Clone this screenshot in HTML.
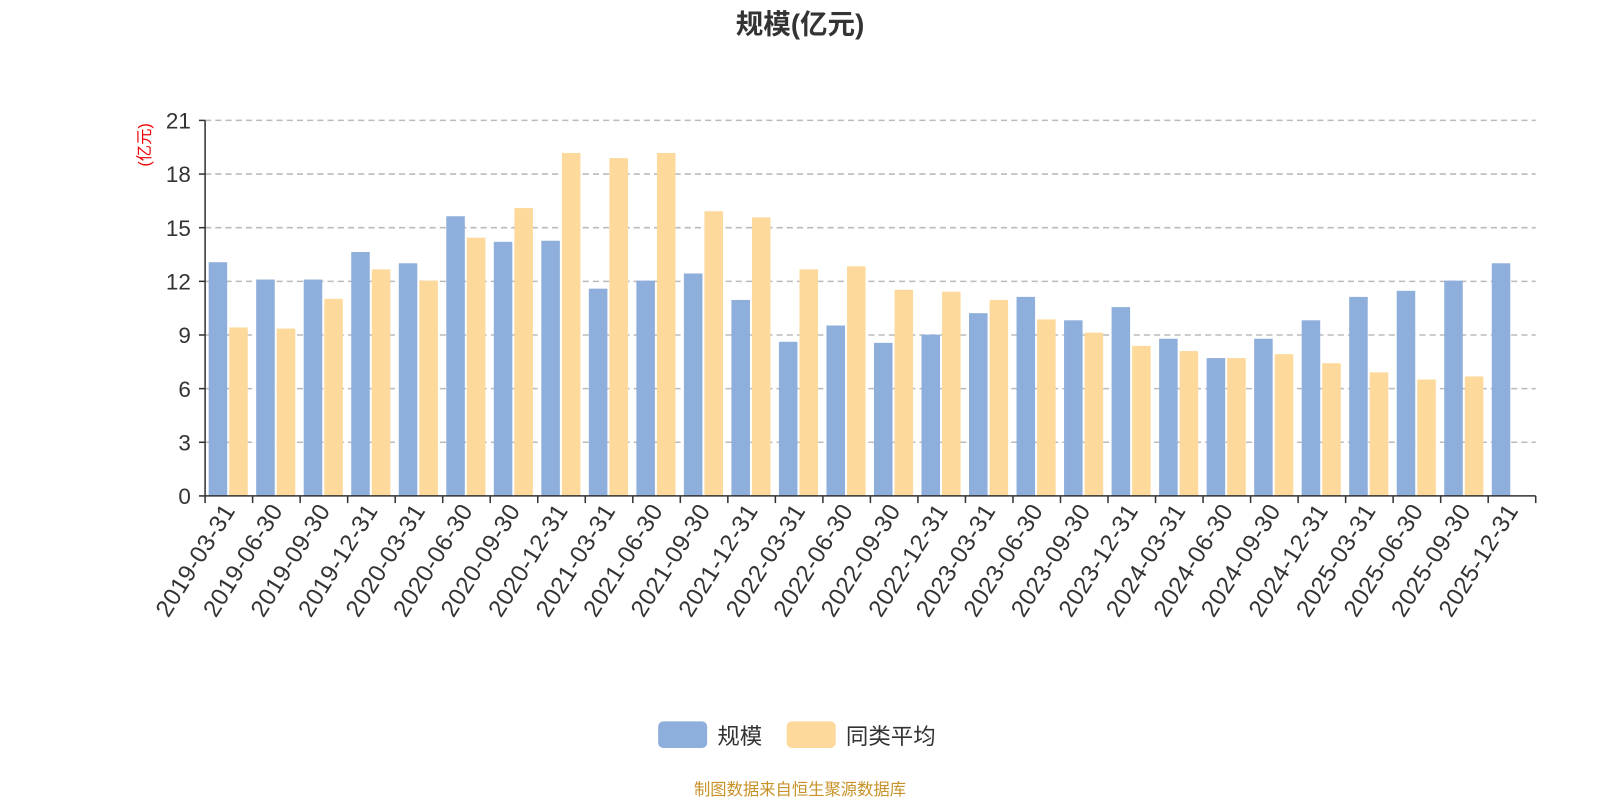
<!DOCTYPE html>
<html><head><meta charset="utf-8">
<style>
html,body{margin:0;padding:0;background:#fff;width:1600px;height:800px;overflow:hidden}
svg text{font-family:"Liberation Sans","Noto Sans CJK SC",sans-serif}
</style></head>
<body>
<svg id="chart" width="1600" height="800" viewBox="0 0 1568 784" xmlns="http://www.w3.org/2000/svg">
<text x="784" y="33" text-anchor="middle" font-size="27" font-weight="bold" fill="#333">规模(亿元)</text>
<text transform="translate(147,142) rotate(-90)" text-anchor="middle" font-size="16" fill="#e00">(亿元)</text>
<g id="grid"></g><g id="bars"></g><g id="axes"></g>
<g>
<g><rect x="645" y="707" width="48" height="26" rx="5" fill="#8eaedb"/><text x="703" y="729" font-size="22" fill="#333">规模</text></g>
<g><rect x="771" y="707" width="48" height="26" rx="5" fill="#fdd99b"/><text x="829" y="729" font-size="22" fill="#333">同类平均</text></g>
</g>
<text x="784" y="779" text-anchor="middle" font-size="16" fill="#c8922a">制图数据来自恒生聚源数据库</text>
</svg>
<script>
const categories=["2019-03-31","2019-06-30","2019-09-30","2019-12-31","2020-03-31","2020-06-30","2020-09-30","2020-12-31","2021-03-31","2021-06-30","2021-09-30","2021-12-31","2022-03-31","2022-06-30","2022-09-30","2022-12-31","2023-03-31","2023-06-30","2023-09-30","2023-12-31","2024-03-31","2024-06-30","2024-09-30","2024-12-31","2025-03-31","2025-06-30","2025-09-30","2025-12-31"];
const sizeValues=[13.07,12.1,12.1,13.64,13.01,15.64,14.21,14.27,11.59,12.04,12.44,10.96,8.62,9.53,8.56,9.02,10.22,11.13,9.82,10.56,8.79,7.71,8.79,9.82,11.13,11.47,12.04,13.01];
const avgValues=[9.42,9.36,11.02,12.67,12.04,14.44,16.1,19.18,18.89,19.18,15.92,15.58,12.67,12.84,11.53,11.42,10.96,9.87,9.13,8.39,8.1,7.71,7.93,7.42,6.91,6.51,6.68,null];
const yTicks=[0,3,6,9,12,15,18,21];
const NS="http://www.w3.org/2000/svg";
const x0=201,x1=1505,y0=486,y1=118,ymax=21;
const cw=(x1-x0)/categories.length;
const yS=v=>y0-(v/ymax)*(y0-y1);
const xS=i=>x0+i*cw;
function mk(tag,attrs,parent){const e=document.createElementNS(NS,tag);for(const k in attrs)e.setAttribute(k,attrs[k]);parent.appendChild(e);return e;}
const grid=document.getElementById('grid'),bars=document.getElementById('bars'),axes=document.getElementById('axes');
yTicks.forEach(t=>{
  if(t>0){const l=mk('line',{x1:x0,x2:x1,y1:yS(t),y2:yS(t),stroke:'#bbb','stroke-dasharray':'6,4','stroke-width':1.5},grid);
  
  }
  const tk=mk('line',{x1:x0-6,x2:x0,y1:yS(t),y2:yS(t),stroke:'#333','stroke-width':1.5},axes);
  
  
  const tx=mk('text',{x:x0-14,y:yS(t)+8,'text-anchor':'end','font-size':22,fill:'#333'},axes);
  tx.textContent=t;
  
  
});
categories.forEach((c,i)=>{
  const bw=cw*0.39;
  if(sizeValues[i]!=null){const r=mk('rect',{x:xS(i)+cw*0.075,y:yS(sizeValues[i]),width:bw,height:y0-yS(sizeValues[i]),fill:'#8eaedb'},bars);
  
  }
  if(avgValues[i]!=null){const r=mk('rect',{x:xS(i)+cw*0.075+bw+2,y:yS(avgValues[i]),width:bw,height:y0-yS(avgValues[i]),fill:'#fdd99b'},bars);
  
  }
  const tk=mk('line',{x1:xS(i),x2:xS(i),y1:y0,y2:y0+7,stroke:'#333','stroke-width':1.5},axes);
  
  
  const cx=xS(i)+cw/2;
  const tx=mk('text',{transform:`translate(${cx+7},${y0+14}) rotate(-58)`,'text-anchor':'end','font-size':23.5,'letter-spacing':0.5,fill:'#333'},axes);
  tx.textContent=c;
  
  
});
const lastTick=mk('line',{x1:x1,x2:x1,y1:y0,y2:y0+7,stroke:'#333','stroke-width':1.5},axes);


const ya=mk('line',{x1:x0,x2:x0,y1:y1,y2:y0,stroke:'#333','stroke-width':1.5},axes);


const xa=mk('line',{x1:x0,x2:x1,y1:y0,y2:y0,stroke:'#333','stroke-width':1.5},axes);


</script>
</body></html>
